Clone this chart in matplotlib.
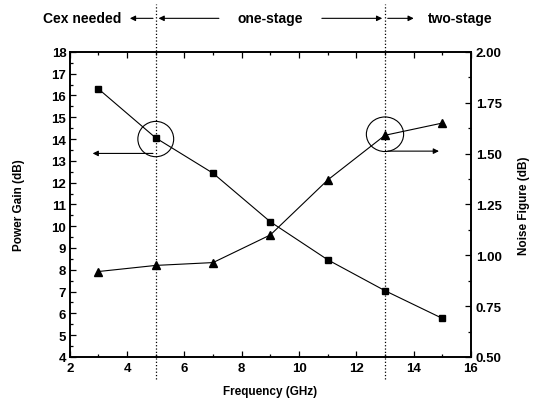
import matplotlib
matplotlib.use('Agg')
import matplotlib.pyplot as plt
from matplotlib.patches import Ellipse
from matplotlib.ticker import MultipleLocator

plt.rcParams['font.family'] = ['Liberation Sans', 'DejaVu Sans']
plt.rcParams['font.weight'] = 'bold'

freq = [3, 5, 7, 9, 11, 13, 15]
gain = [16.3, 14.05, 12.43, 10.2, 8.46, 7.04, 5.77]
nf = [0.92, 0.95, 0.964, 1.10, 1.37, 1.59, 1.65]
bounds = [5, 13]

fig = plt.figure(figsize=(5.37, 4.10), dpi=100)
ax = fig.add_axes([0.130, 0.127, 0.747, 0.744])
ax2 = ax.twinx()

ax.plot(freq, gain, color='black', lw=0.8, marker='s', ms=4.5)
ax2.plot(freq, nf, color='black', lw=0.8, marker='^', ms=6)

ax.set_xlim(2, 16)
ax.set_ylim(4, 18)
ax2.set_ylim(0.5, 2.0)
ax.xaxis.set_major_locator(MultipleLocator(2))
ax.xaxis.set_minor_locator(MultipleLocator(1))
ax.yaxis.set_major_locator(MultipleLocator(1))
ax.yaxis.set_minor_locator(MultipleLocator(0.5))
ax2.yaxis.set_major_locator(MultipleLocator(0.25))
ax2.yaxis.set_minor_locator(MultipleLocator(0.125))
ax2.set_yticklabels(['%.2f' % v for v in ax2.get_yticks()])

for a in (ax, ax2):
    a.tick_params(which='both', direction='in', labelsize=9.5, width=0.9)
    a.tick_params(which='major', length=4)
    a.tick_params(which='minor', length=2.5)
    for s in a.spines.values():
        s.set_linewidth(1.2)
ax.tick_params(which='both', top=True)
ax.tick_params(axis='y', pad=2.5)

ax.set_xlabel('Frequency (GHz)', fontsize=8.5, fontweight='bold', labelpad=8)
ax.set_ylabel('Power Gain (dB)', fontsize=8.5, fontweight='bold', labelpad=19)
ax2.set_ylabel('Noise Figure (dB)', fontsize=8.5, fontweight='bold', labelpad=12)

for b in bounds:
    ax.axvline(b, ymin=-0.072, ymax=1.157, color='black', ls=':', lw=0.9, clip_on=False)

# circles and arrows pointing to the axes
ax.add_patch(Ellipse((5, 14.0), 1.25, 1.62, fill=False, lw=0.8, color='black'))
ax2.add_patch(Ellipse((13, 1.595), 1.3, 0.17, fill=False, lw=0.8, color='black'))
ax.annotate('', xy=(2.7, 13.34), xytext=(5, 13.34),
            arrowprops=dict(arrowstyle='-|>', color='black', lw=0.8, mutation_scale=8))
ax2.annotate('', xy=(14.98, 1.512), xytext=(13, 1.512),
             arrowprops=dict(arrowstyle='-|>', color='black', lw=0.8, mutation_scale=8))

# top region annotations
ty = 1.11
tc = ('data', 'axes fraction')
ap = dict(arrowstyle='-|>', color='black', lw=0.8, mutation_scale=8)
ax.annotate('', xy=(4.0, ty), xytext=(5, ty), xycoords=tc, textcoords=tc, arrowprops=ap, annotation_clip=False)
ax.annotate('Cex needed', xy=(3.8, ty), xycoords=tc, ha='right', va='center',
            fontsize=10, fontweight='bold', annotation_clip=False)
ax.annotate('', xy=(5, ty), xytext=(7.3, ty), xycoords=tc, textcoords=tc, arrowprops=ap, annotation_clip=False)
ax.annotate('one-stage', xy=(9.0, ty), xycoords=tc, ha='center', va='center',
            fontsize=10, fontweight='bold', annotation_clip=False)
ax.annotate('', xy=(13, ty), xytext=(10.7, ty), xycoords=tc, textcoords=tc, arrowprops=ap, annotation_clip=False)
ax.annotate('', xy=(14.1, ty), xytext=(13, ty), xycoords=tc, textcoords=tc, arrowprops=ap, annotation_clip=False)
ax.annotate('two-stage', xy=(14.5, ty), xycoords=tc, ha='left', va='center',
            fontsize=10, fontweight='bold', annotation_clip=False)

fig.savefig('out.png', dpi=100)
